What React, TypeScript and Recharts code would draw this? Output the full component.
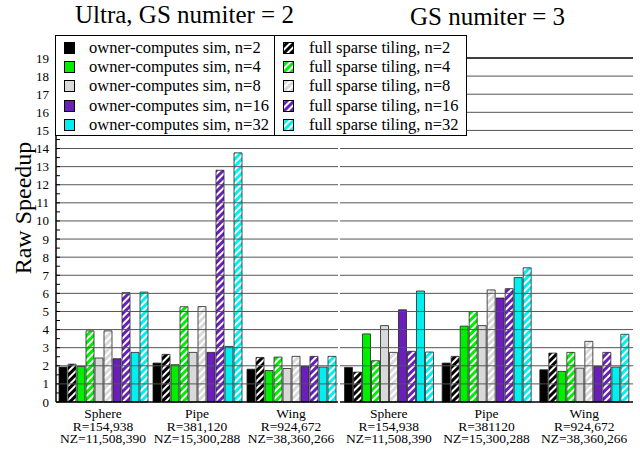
import React from 'react';
import { BarChart, Bar, XAxis, YAxis, ReferenceLine } from 'recharts';

const groups = ['Sphere', 'Pipe', 'Wing'];
const rowsIter2 = ['R=154,938', 'R=381,120', 'R=924,672'];
const rowsIter3 = ['R=154,938', 'R=381120', 'R=924,672'];
const nzRow = ['NZ=11,508,390', 'NZ=15,300,288', 'NZ=38,360,266'];

const nValues = [2, 4, 8, 16, 32];
const colors = ['#000000', '#00ee00', '#d9d9d9', '#6a1fb8', '#00f0f0'];

// [n index][group index]
const ownerIter2 = [
  [1.93, 2.15, 1.81],
  [1.96, 2.06, 1.74],
  [2.43, 2.74, 1.85],
  [2.39, 2.74, 1.96],
  [2.74, 3.07, 1.93],
];
const fstIter2 = [
  [2.09, 2.63, 2.46],
  [3.93, 5.26, 2.48],
  [3.93, 5.27, 2.52],
  [6.04, 12.8, 2.52],
  [6.07, 13.76, 2.52],
];
const ownerIter3 = [
  [1.91, 2.15, 1.78],
  [3.76, 4.19, 1.69],
  [4.22, 4.22, 1.87],
  [5.09, 5.74, 1.96],
  [6.13, 6.87, 1.93],
];
const fstIter3 = [
  [1.65, 2.52, 2.7],
  [2.28, 5.0, 2.74],
  [2.74, 6.19, 3.35],
  [2.8, 6.26, 2.74],
  [2.76, 7.41, 3.74],
];

const halfTicks = Array.from({ length: 39 }, (_, i) => i / 2);
const gridTicks = Array.from({ length: 18 }, (_, i) => i + 1);

const FONT = '"Liberation Serif", "Times New Roman", serif';

function buildData(owner: number[][], fst: number[][], rows: string[]) {
  return groups.map((g, gi) => {
    const row: any = { name: g, rLabel: rows[gi], nzLabel: nzRow[gi] };
    nValues.forEach((n, ni) => {
      row['oc' + n] = owner[ni][gi];
      row['fs' + n] = fst[ni][gi];
    });
    return row;
  });
}

const dataIter2 = buildData(ownerIter2, fstIter2, rowsIter2);
const dataIter3 = buildData(ownerIter3, fstIter3, rowsIter3);

function LeftTick(props: any) {
  const { x, y, payload } = props;
  const v = payload.value;
  return (
    <g>
      <line x1={x + 6} x2={x + 10} y1={y} y2={y} stroke="#000" />
      {Number.isInteger(v) && (
        <text x={x - 1} y={y + 4.5} textAnchor="end" fontSize={13} fontFamily={FONT} fill="#000">
          {v}
        </text>
      )}
    </g>
  );
}

function RightTick(props: any) {
  const { x, y } = props;
  return <line x1={x - 4} x2={x} y1={y} y2={y} stroke="#000" />;
}

function makeXTick(data: any[]) {
  return (props: any) => {
    const { x, y, payload } = props;
    const row = data[payload.index];
    return (
      <text x={x} textAnchor="middle" fontSize={13.5} fontFamily={FONT} fill="#000">
        <tspan x={x} y={y + 16}>{row.name}</tspan>
        <tspan x={x} y={y + 28.5}>{row.rLabel}</tspan>
        <tspan x={x} y={y + 41}>{row.nzLabel}</tspan>
      </text>
    );
  };
}

function bars() {
  const out: any[] = [];
  nValues.forEach((n, i) => {
    out.push(
      <Bar key={'oc' + n} dataKey={'oc' + n} yAxisId="l" fill={colors[i]} stroke="#222" strokeWidth={0.8} isAnimationActive={false} />
    );
    out.push(
      <Bar key={'fs' + n} dataKey={'fs' + n} yAxisId="l" fill={`url(#hatch${i})`} stroke="#222" strokeWidth={0.8} isAnimationActive={false} />
    );
  });
  return out;
}

function gridLines() {
  return gridTicks.map((v) => (
    <ReferenceLine key={v} y={v} yAxisId="l" stroke="#555" strokeWidth={1} ifOverflow="visible" />
  ));
}

function Swatch({ i, hatched }: { i: number; hatched: boolean }) {
  return (
    <svg width={11} height={12} style={{ display: 'block' }}>
      <rect x={0.5} y={0.5} width={10} height={11} fill={hatched ? `url(#hatch${i})` : colors[i]} stroke="#000" />
    </svg>
  );
}

function LegendBox({ hatched, left, width }: { hatched: boolean; left: number; width: number }) {
  return (
    <div
      style={{
        position: 'absolute',
        left,
        top: 35,
        width,
        height: 101,
        border: '1.5px solid #000',
        background: '#fff',
        boxSizing: 'border-box',
        fontFamily: FONT,
        fontSize: 16.5,
        paddingTop: 2,
      }}
    >
      {nValues.map((n, i) => (
        <div key={n} style={{ display: 'flex', alignItems: 'center', height: 19.3, whiteSpace: 'nowrap' }}>
          <div style={{ width: 8 }} />
          <Swatch i={i} hatched={hatched} />
          <div style={{ width: hatched ? 15 : 14 }} />
          <span>{hatched ? `full sparse tiling, n=${n}` : `owner-computes sim, n=${n}`}</span>
        </div>
      ))}
    </div>
  );
}

export default function App() {
  return (
    <div style={{ position: 'absolute', left: 0, top: 0, width: 640, height: 451, background: '#fff', overflow: 'hidden' }}>
      <svg width={0} height={0} style={{ position: 'absolute' }}>
        <defs>
          {colors.map((c, i) => (
            <pattern key={i} id={`hatch${i}`} width={5} height={5} patternUnits="userSpaceOnUse" patternTransform="rotate(45)">
              <rect width={5} height={5} fill={c} />
              <rect width={2} height={5} fill="#fff" />
            </pattern>
          ))}
        </defs>
      </svg>

      <div style={{ position: 'absolute', left: 0, top: 0 }}>
        <BarChart width={340} height={451} data={dataIter2} margin={{ top: 58, right: 2, bottom: 19, left: 0 }} barCategoryGap={3} barGap={1}>
          <XAxis dataKey="name" height={30} axisLine={{ stroke: '#000', strokeWidth: 1.5 }} tickLine={false} tickSize={0} tickMargin={0} interval={0} tick={makeXTick(dataIter2)} />
          <YAxis yAxisId="l" width={56} domain={[0, 19]} ticks={halfTicks} interval={0} axisLine={{ stroke: '#000', strokeWidth: 1.5 }} tickLine={false} tickSize={0} tickMargin={6} tick={(p: any) => <LeftTick {...p} />} />
          <YAxis yAxisId="r" orientation="right" width={0} domain={[0, 19]} ticks={halfTicks} interval={0} axisLine={{ stroke: '#000', strokeWidth: 1.5 }} tickLine={false} tickSize={0} tickMargin={0} tick={(p: any) => <RightTick {...p} />} />
          {gridLines()}
          <ReferenceLine y={19} yAxisId="l" stroke="#000" strokeWidth={1.5} ifOverflow="visible" />
          {bars()}
        </BarChart>
      </div>

      <div style={{ position: 'absolute', left: 340, top: 0 }}>
        <BarChart width={300} height={451} data={dataIter3} margin={{ top: 58, right: 7, bottom: 19, left: 0 }} barCategoryGap={4.5} barGap={1}>
          <XAxis dataKey="name" height={30} axisLine={{ stroke: '#000', strokeWidth: 1.5 }} tickLine={false} tickSize={0} tickMargin={0} interval={0} tick={makeXTick(dataIter3)} />
          <YAxis yAxisId="l" width={0} domain={[0, 19]} ticks={halfTicks} interval={0} axisLine={{ stroke: '#000', strokeWidth: 1.5 }} tick={false} tickLine={false} />
          <YAxis yAxisId="r" orientation="right" width={0} domain={[0, 19]} ticks={halfTicks} interval={0} axisLine={{ stroke: '#000', strokeWidth: 1.5 }} tickLine={false} tickSize={0} tickMargin={0} tick={(p: any) => <RightTick {...p} />} />
          {gridLines()}
          <ReferenceLine y={19} yAxisId="l" stroke="#000" strokeWidth={1.5} ifOverflow="visible" />
          {bars()}
        </BarChart>
      </div>

      <LegendBox hatched={false} left={55} width={221} />
      <LegendBox hatched={true} left={274} width={193} />

      <div style={{ position: 'absolute', left: 75, top: 1, fontFamily: FONT, fontSize: 25, whiteSpace: 'nowrap', lineHeight: '28px' }}>
        Ultra, GS numiter = 2
      </div>
      <div style={{ position: 'absolute', left: 410, top: 3, fontFamily: FONT, fontSize: 25, whiteSpace: 'nowrap', lineHeight: '28px' }}>
        GS numiter = 3
      </div>
      <div
        style={{
          position: 'absolute',
          left: 23,
          top: 208,
          transform: 'translate(-50%, -50%) rotate(-90deg)',
          fontFamily: FONT,
          fontSize: 24,
          whiteSpace: 'nowrap',
          lineHeight: '28px',
        }}
      >
        Raw Speedup
      </div>
    </div>
  );
}
